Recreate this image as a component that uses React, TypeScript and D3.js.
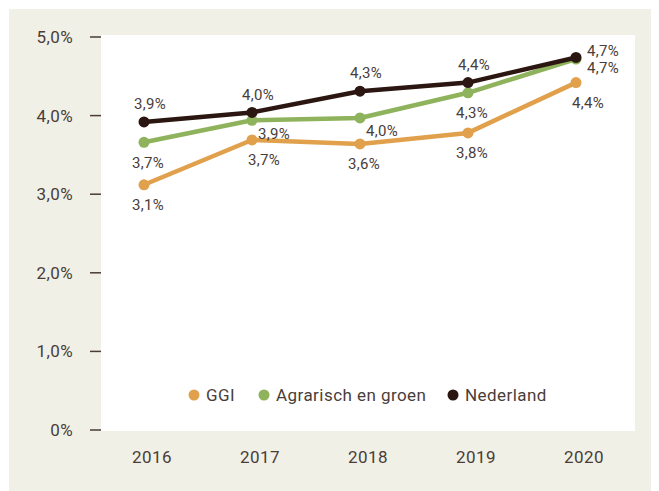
import React, { useEffect, useRef } from "react";
import * as d3 from "d3";

const years = ["2016", "2017", "2018", "2019", "2020"];
const yTicks = [0, 1, 2, 3, 4, 5];

const ggi = [3.12, 3.69, 3.64, 3.78, 4.42];
const agrarisch = [3.66, 3.94, 3.97, 4.29, 4.72];
const nederland = [3.92, 4.04, 4.31, 4.42, 4.74];

const seriesNames = ["GGI", "Agrarisch en groen", "Nederland"];
const seriesColors = ["#e1a04b", "#8fb35c", "#2b1611"];

// where each value label sits relative to its point
const ggiPos = ["below", "belowR", "below", "below", "belowR"];
const agrPos = ["below", "belowRight", "belowRight", "below", "rightDown"];
const nedPos = ["above", "above", "above", "above", "rightUp"];

const placements: Record<string, { dx: number; dy: number; anchor: string }> = {
  above: { dx: 6, dy: -18, anchor: "middle" },
  below: { dx: 4, dy: 20, anchor: "middle" },
  belowR: { dx: 12, dy: 20, anchor: "middle" },
  belowRight: { dx: 6, dy: 13, anchor: "start" },
  rightUp: { dx: 11, dy: -7, anchor: "start" },
  rightDown: { dx: 11, dy: 9, anchor: "start" },
};

const App = () => {
  const ref = useRef<SVGSVGElement>(null);

  useEffect(() => {
    const svg = d3.select(ref.current);
    svg.selectAll("*").remove();
    const root = svg.append("g").attr("transform", "translate(-8,-8)");
    const font = "Roboto, 'DejaVu Sans', sans-serif";
    const textColor = "#4a3d39";

    root.append("rect").attr("x", 9).attr("y", 9).attr("width", 650).attr("height", 482).attr("fill", "#f0f0e6");
    root.append("rect").attr("x", 101).attr("y", 35).attr("width", 534).attr("height", 396).attr("fill", "#ffffff");

    const x = d3.scalePoint<string>().domain(years).range([144, 576]);
    const y = d3.scaleLinear().domain([0, 5]).range([430, 37]);
    const fmt = (v: number) => (v === 0 ? "0%" : d3.format(".1f")(v).replace(".", ",") + "%");

    // y axis ticks
    const yt = root.append("g").selectAll("g").data(yTicks).enter().append("g");
    yt.append("line")
      .attr("x1", 90).attr("x2", 101)
      .attr("y1", (d) => y(d)).attr("y2", (d) => y(d))
      .attr("stroke", textColor).attr("stroke-width", 1.5);
    yt.append("text")
      .attr("x", 73).attr("y", (d) => y(d))
      .attr("dy", "0.35em")
      .attr("text-anchor", "end")
      .attr("font-family", font).attr("font-size", 17)
      .attr("letter-spacing", 0.4)
      .attr("fill", textColor)
      .text((d) => fmt(d));

    // x labels
    root.append("g").selectAll("text").data(years).enter().append("text")
      .attr("x", (d) => (x(d) as number) + 8).attr("y", 457)
      .attr("dy", "0.35em")
      .attr("text-anchor", "middle")
      .attr("font-family", font).attr("font-size", 17)
      .attr("letter-spacing", 0.4)
      .attr("fill", textColor)
      .text((d) => d);

    const allSeries = [
      { values: ggi, pos: ggiPos },
      { values: agrarisch, pos: agrPos },
      { values: nederland, pos: nedPos },
    ];

    const line = d3.line<number>()
      .x((_, i) => x(years[i]) as number)
      .y((d) => y(d));

    allSeries.forEach((s, si) => {
      const g = root.append("g");
      g.append("path")
        .attr("d", line(s.values))
        .attr("fill", "none")
        .attr("stroke", seriesColors[si])
        .attr("stroke-width", 4.5)
        .attr("stroke-linejoin", "round");
      g.selectAll("circle").data(s.values).enter().append("circle")
        .attr("cx", (_, i) => x(years[i]) as number)
        .attr("cy", (d) => y(d))
        .attr("r", 5.5)
        .attr("fill", seriesColors[si]);
    });

    allSeries.forEach((s) => {
      root.append("g").selectAll("text").data(s.values).enter().append("text")
        .attr("x", (_, i) => (x(years[i]) as number) + placements[s.pos[i]].dx)
        .attr("y", (d, i) => y(d) + placements[s.pos[i]].dy)
        .attr("dy", "0.35em")
        .attr("text-anchor", (_, i) => placements[s.pos[i]].anchor)
        .attr("font-family", font).attr("font-size", 15)
        .attr("letter-spacing", 0.3)
        .attr("fill", textColor)
        .text((d) => fmt(d));
    });

    // legend
    const legendX = [194, 264, 453];
    const lg = root.append("g").selectAll("g").data(seriesNames).enter().append("g")
      .attr("transform", (_, i) => `translate(${legendX[i]},395)`);
    lg.append("circle").attr("r", 5.5).attr("fill", (_, i) => seriesColors[i]);
    lg.append("text")
      .attr("x", 12).attr("dy", "0.35em")
      .attr("font-family", font).attr("font-size", 17)
      .attr("letter-spacing", 0.45)
      .attr("fill", textColor)
      .text((d) => d);
  }, []);

  return <svg ref={ref} width={651} height={483} style={{ display: "block" }} />;
};

export default App;
